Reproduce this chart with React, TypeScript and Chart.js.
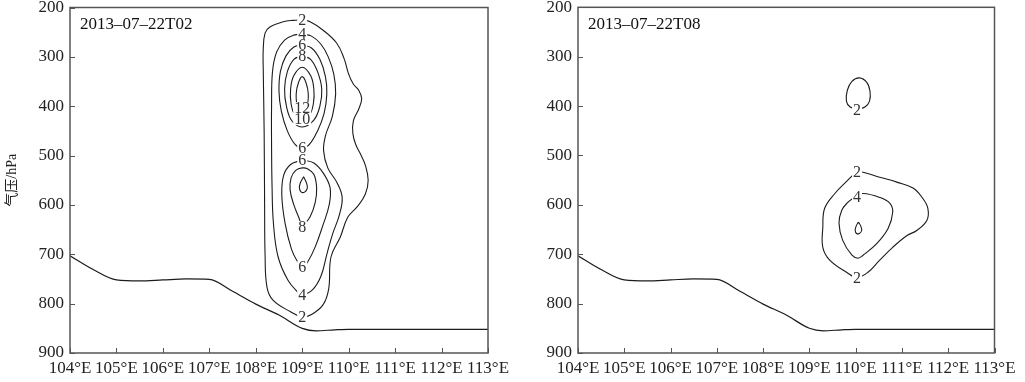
import React, { useEffect, useRef } from "react";
import { Chart, registerables } from "chart.js";
Chart.register(...registerables);

const FONT = "'Liberation Serif', 'DejaVu Serif', serif";
const CJK_FONT = "'Liberation Serif', 'Noto Sans CJK SC', serif";

const lonTicks = [104, 105, 106, 107, 108, 109, 110, 111, 112, 113];
const presTicks = [200, 300, 400, 500, 600, 700, 800, 900];

const terrainLon = [104, 104.5, 105, 105.5, 106, 106.5, 107, 107.5, 108, 108.5, 109, 109.3, 109.7, 110, 111, 112, 113];
const terrainP = [703, 731, 752, 754, 752, 750, 751, 775, 801, 823, 850, 855, 853, 852, 852, 852, 852];

// Panel 1: 2013-07-22T02 contours, [lon, hPa]
const L_c2 = [[109.0,225],[109.17,229],[109.45,246],[109.74,272],[109.9,303],[110.0,335],[110.1,355],[110.22,368],[110.28,385],[110.22,405],[110.1,430],[110.09,455],[110.15,477],[110.26,498],[110.36,520],[110.42,550],[110.36,578],[110.2,602],[109.98,625],[109.82,665],[109.62,705],[109.57,770],[109.45,802],[109.2,822],[109.0,827],[108.74,816],[108.37,793],[108.24,766],[108.2,700],[108.19,600],[108.18,450],[108.16,320],[108.16,286],[108.2,252],[108.31,239],[108.59,229],[108.8,226],[109.0,225]];
const L_c4 = [[109.0,254],[109.2,258],[109.4,274],[109.56,300],[109.68,335],[109.72,375],[109.65,420],[109.5,460],[109.46,490],[109.55,525],[109.75,555],[109.86,585],[109.8,620],[109.65,660],[109.53,700],[109.4,745],[109.22,772],[109.0,782],[108.91,777],[108.69,752],[108.48,705],[108.38,637],[108.35,560],[108.34,480],[108.34,400],[108.36,330],[108.45,290],[108.62,266],[108.82,256],[109.0,254]];
const L_c6a = [[109.0,276],[109.2,282],[109.38,305],[109.5,340],[109.53,375],[109.47,415],[109.33,450],[109.15,478],[109.0,485],[108.85,478],[108.68,450],[108.55,410],[108.5,370],[108.53,330],[108.65,298],[108.82,280],[109.0,276]];
const L_c8a = [[109.0,298],[109.18,305],[109.33,330],[109.42,365],[109.38,400],[109.25,428],[109.0,442],[108.78,430],[108.66,400],[108.62,365],[108.68,330],[108.82,305],[109.0,298]];
const L_c10a = [[109.0,428],[109.15,420],[109.24,395],[109.25,365],[109.18,338],[109.0,321],[108.82,338],[108.75,365],[108.76,395],[108.85,420],[109.0,428]];
const L_c12 = [[109.0,408],[109.1,400],[109.13,375],[109.08,352],[109.0,340],[108.92,352],[108.87,375],[108.9,400],[109.0,408]];
const L_c6b = [[109.0,509],[109.25,515],[109.45,535],[109.6,565],[109.58,600],[109.45,640],[109.28,685],[109.12,715],[109.0,726],[108.9,715],[108.77,690],[108.63,637],[108.56,580],[108.6,540],[108.75,518],[109.0,509]];
const L_c8b = [[109.0,645],[109.17,624],[109.28,595],[109.31,565],[109.25,538],[109.12,527],[109.0,525],[108.86,530],[108.76,545],[108.74,570],[108.82,600],[108.92,624],[109.0,645]];
const L_c10b = [[109.03,543],[109.09,555],[109.11,566],[109.05,574],[108.98,574],[108.94,566],[108.96,555],[109.03,543]];

const leftLabelText = ["2", "4", "6", "8", "12", "10", "6", "6", "8", "6", "4", "2"];
const leftLabelLon = [109.0, 109.0, 109.0, 109.0, 109.0, 109.0, 109.0, 109.0, 109.0, 109.0, 109.0, 109.0];
const leftLabelP = [225, 254, 276, 298, 404, 426, 485, 509, 645, 726, 782, 827];

// Panel 2: 2013-07-22T08 contours
const R_c2a = [[110.05,406],[110.2,402],[110.3,390],[110.31,370],[110.24,352],[110.08,343],[109.92,350],[109.82,368],[109.8,390],[109.88,402],[110.05,406]];
const R_c2b = [[110.03,534],[110.16,534],[110.52,544],[110.89,554],[111.24,566],[111.45,587],[111.56,607],[111.54,631],[111.32,652],[111.11,662],[110.8,686],[110.52,712],[110.26,737],[110.03,747],[109.81,737],[109.44,712],[109.29,686],[109.29,646],[109.33,607],[109.55,577],[109.83,550],[109.94,540],[110.03,534]];
const R_c4 = [[110.03,583],[110.16,577],[110.52,585],[110.74,597],[110.8,615],[110.7,648],[110.46,678],[110.16,702],[110.05,708],[109.92,702],[109.72,672],[109.64,637],[109.7,611],[109.83,595],[109.94,587],[110.03,583]];
const R_c6 = [[110.06,635],[110.11,643],[110.13,652],[110.08,658],[110.02,658],[109.99,652],[110.01,643],[110.06,635]];

const rightLabelText = ["2", "2", "4", "2"];
const rightLabelLon = [110.03, 110.03, 110.03, 110.03];
const rightLabelP = [408, 534, 583, 747];

type PanelSpec = {
  title: string;
  contours: number[][][];
  labelText: string[];
  labelLon: number[];
  labelP: number[];
  yTitle: boolean;
  yWidth: number;
  padRight: number;
  padTop: number;
};

function buildConfig(spec: PanelSpec): any {
  const lineColor = "#1c1c1c";
  const datasets: any[] = [
    {
      data: terrainLon.map((x, i) => ({ x, y: terrainP[i] })),
      showLine: true,
      borderColor: lineColor,
      borderWidth: 1.2,
      pointRadius: 0,
      cubicInterpolationMode: "monotone",
      fill: false,
    },
  ];
  spec.contours.forEach((c) => {
    datasets.push({
      data: c.map((p) => ({ x: p[0], y: p[1] })),
      showLine: true,
      borderColor: lineColor,
      borderWidth: 1.1,
      pointRadius: 0,
      tension: 0.4,
      fill: false,
    });
  });

  const labelPlugin = {
    id: "contourLabels",
    afterDatasetsDraw(chart: any) {
      const { ctx, scales } = chart;
      ctx.save();
      ctx.font = "16px " + FONT;
      ctx.textAlign = "center";
      ctx.textBaseline = "middle";
      spec.labelText.forEach((t, i) => {
        const px = scales.x.getPixelForValue(spec.labelLon[i]);
        const py = scales.y.getPixelForValue(spec.labelP[i]);
        const w = ctx.measureText(t).width;
        ctx.fillStyle = "#ffffff";
        ctx.fillRect(px - w / 2 - 1, py - 6, w + 2, 12);
        ctx.fillStyle = "#333333";
        ctx.fillText(t, px, py + 1);
      });
      ctx.restore();
    },
  };

  const framePlugin = {
    id: "frame",
    afterDraw(chart: any) {
      const { ctx, chartArea: a, scales } = chart;
      ctx.save();
      ctx.strokeStyle = "#555555";
      ctx.lineWidth = 1.5;
      ctx.strokeRect(a.left, a.top, a.right - a.left, a.bottom - a.top);
      ctx.lineWidth = 1;
      lonTicks.forEach((v) => {
        const x = Math.round(scales.x.getPixelForValue(v)) + 0.5;
        ctx.beginPath();
        ctx.moveTo(x, a.bottom);
        ctx.lineTo(x, a.bottom - 5);
        ctx.stroke();
      });
      presTicks.forEach((v) => {
        const y = Math.round(scales.y.getPixelForValue(v)) + 0.5;
        ctx.beginPath();
        ctx.moveTo(a.left, y);
        ctx.lineTo(a.left + 5, y);
        ctx.stroke();
      });
      ctx.font = "17px " + FONT;
      ctx.fillStyle = "#111111";
      ctx.textAlign = "left";
      ctx.textBaseline = "middle";
      ctx.fillText(spec.title, a.left + 10, a.top + 17);
      ctx.restore();
    },
  };

  return {
    type: "scatter",
    data: { datasets },
    options: {
      animation: false,
      responsive: false,
      maintainAspectRatio: false,
      layout: { padding: { left: 0, right: spec.padRight, top: spec.padTop, bottom: 0 } },
      plugins: { legend: { display: false }, tooltip: { enabled: false } },
      scales: {
        x: {
          type: "linear",
          min: 104,
          max: 113,
          grid: { display: false, drawTicks: false },
          border: { display: false },
          ticks: {
            stepSize: 1,
            autoSkip: false,
            maxRotation: 0,
            minRotation: 0,
            padding: 5,
            color: "#222222",
            font: { family: FONT, size: 17 },
            callback: (v: any) => v + "°E",
          },
          afterFit(s: any) {
            s.height = 29;
            s.paddingLeft = 0;
            s.paddingRight = 0;
          },
        },
        y: {
          type: "linear",
          reverse: true,
          min: 200,
          max: 900,
          grid: { display: false, drawTicks: false },
          border: { display: false },
          ticks: {
            stepSize: 100,
            autoSkip: false,
            padding: 6,
            color: "#222222",
            font: { family: FONT, size: 17 },
          },
          title: {
            display: spec.yTitle,
            text: "气压/hPa",
            color: "#222222",
            font: { family: CJK_FONT, size: 14 },
            padding: { top: 4, bottom: 0 },
          },
          afterFit(s: any) {
            s.width = spec.yWidth;
            s.paddingTop = 0;
            s.paddingBottom = 0;
          },
        },
      },
    },
    plugins: [labelPlugin, framePlugin],
  };
}

export default function App() {
  const leftRef = useRef<HTMLCanvasElement>(null);
  const rightRef = useRef<HTMLCanvasElement>(null);

  useEffect(() => {
    const left = new Chart(
      leftRef.current as HTMLCanvasElement,
      buildConfig({
        title: "2013–07–22T02",
        contours: [L_c2, L_c4, L_c6a, L_c8a, L_c10a, L_c12, L_c6b, L_c8b, L_c10b],
        labelText: leftLabelText,
        labelLon: leftLabelLon,
        labelP: leftLabelP,
        yTitle: true,
        yWidth: 70,
        padRight: 32,
        padTop: 7.5,
      })
    );
    const right = new Chart(
      rightRef.current as HTMLCanvasElement,
      buildConfig({
        title: "2013–07–22T08",
        contours: [R_c2a, R_c2b, R_c4, R_c6],
        labelText: rightLabelText,
        labelLon: rightLabelLon,
        labelP: rightLabelP,
        yTitle: false,
        yWidth: 78,
        padRight: 30.5,
        padTop: 7.3,
      })
    );
    return () => {
      left.destroy();
      right.destroy();
    };
  }, []);

  return (
    <div style={{ position: "fixed", left: 0, top: 0, width: 1025, height: 382, background: "#ffffff" }}>
      <canvas ref={leftRef} width={520} height={382} style={{ position: "absolute", left: 0, top: 0 }} />
      <canvas ref={rightRef} width={525} height={382} style={{ position: "absolute", left: 500, top: 0 }} />
    </div>
  );
}
